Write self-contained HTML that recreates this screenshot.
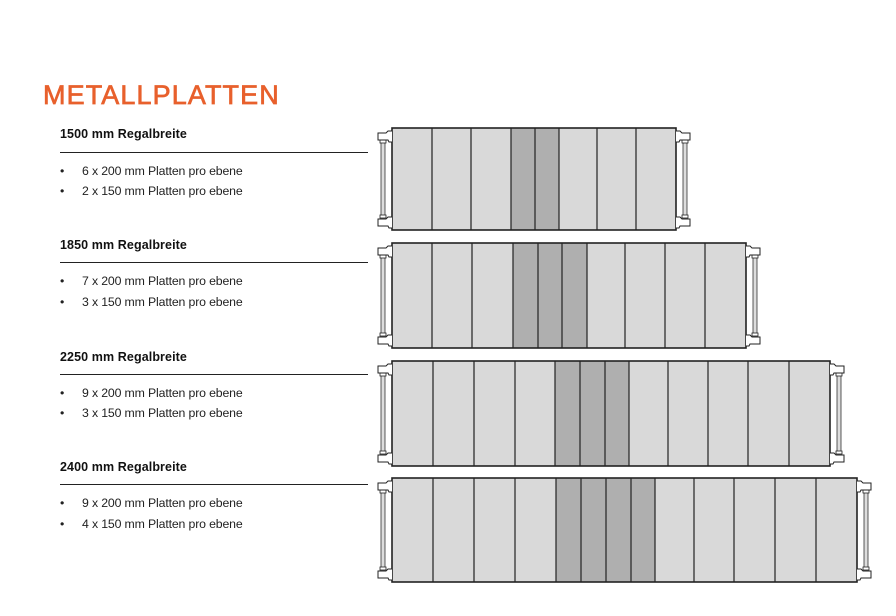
<!DOCTYPE html>
<html><head><meta charset="utf-8"><style>
body{margin:0;background:#fff;width:896px;height:616px;overflow:hidden;position:relative;font-family:"Liberation Sans",sans-serif}
.t{position:absolute;left:43px;top:80px;font-size:27px;color:#e8602c;letter-spacing:1.1px;-webkit-text-stroke:0.7px #e8602c}
.h{position:absolute;left:60px;font-size:12.5px;font-weight:bold;color:#111;letter-spacing:0.1px}
.l{position:absolute;left:60px;width:308px;border-top:1px solid #222}
.b{position:absolute;left:60px;font-size:12.3px;color:#222;letter-spacing:-0.15px}
.b span{position:absolute;left:22px;white-space:nowrap}
svg{position:absolute;left:0;top:0}
</style></head><body>
<div class="t">METALLPLATTEN</div>
<div class="h" style="top:127px">1500 mm Regalbreite</div><div class="l" style="top:152px"></div>
<div class="b" style="top:164px">•<span>6 x 200 mm Platten pro ebene</span></div>
<div class="b" style="top:184px">•<span>2 x 150 mm Platten pro ebene</span></div>
<div class="h" style="top:238px">1850 mm Regalbreite</div><div class="l" style="top:262px"></div>
<div class="b" style="top:274px">•<span>7 x 200 mm Platten pro ebene</span></div>
<div class="b" style="top:295px">•<span>3 x 150 mm Platten pro ebene</span></div>
<div class="h" style="top:350px">2250 mm Regalbreite</div><div class="l" style="top:374px"></div>
<div class="b" style="top:386px">•<span>9 x 200 mm Platten pro ebene</span></div>
<div class="b" style="top:406px">•<span>3 x 150 mm Platten pro ebene</span></div>
<div class="h" style="top:460px">2400 mm Regalbreite</div><div class="l" style="top:484px"></div>
<div class="b" style="top:496px">•<span>9 x 200 mm Platten pro ebene</span></div>
<div class="b" style="top:517px">•<span>4 x 150 mm Platten pro ebene</span></div>
<svg id="s" width="896" height="616"></svg>
<script>
var P=[[392,676,128,230,[432,471,511,535,559,597,636],511,559],
[392,746,243,348,[432,472,513,538,562,587,625,665,705],513,587],
[392,830,361,466,[433,474,515,555,580,605,629,668,708,748,789],555,629],
[392,857,478,582,[433,474,515,556,581,606,631,655,694,734,775,816],556,655]];
var s='';
function br(x,y1,y2,d){
 var a=x-d*14,px=x-d*9;
 var cap=function(y){return '<path d="M'+x+' '+y+' L'+(x-d*4)+' '+y+' L'+(x-d*6)+' '+(y+2)+' L'+a+' '+(y+2)+' L'+a+' '+(y+9)+' L'+(x-d*4)+' '+(y+9)+' L'+(x-d*3)+' '+(y+11)+' L'+x+' '+(y+11)+'" fill="#fff" stroke="#222" stroke-width="1"/>';};
 s+='<rect x="'+(px-2)+'" y="'+(y1+14)+'" width="4" height="'+(y2-y1-28)+'" fill="#ddd" stroke="#333" stroke-width="0.8"/>';
 s+='<rect x="'+(px-3)+'" y="'+(y1+12)+'" width="6" height="3" fill="#fff" stroke="#222" stroke-width="0.8"/>';
 s+='<rect x="'+(px-3)+'" y="'+(y2-15)+'" width="6" height="3" fill="#fff" stroke="#222" stroke-width="0.8"/>';
 s+=cap(y1+3);s+=cap(y2-13);
}
P.forEach(function(p){
 var x1=p[0],x2=p[1],y1=p[2],y2=p[3];
 s+='<rect x="'+x1+'" y="'+y1+'" width="'+(x2-x1)+'" height="'+(y2-y1)+'" fill="#d9d9d9"/>';
 s+='<rect x="'+p[5]+'" y="'+y1+'" width="'+(p[6]-p[5])+'" height="'+(y2-y1)+'" fill="#afafaf"/>';
 p[4].forEach(function(x){s+='<line x1="'+x+'" y1="'+y1+'" x2="'+x+'" y2="'+y2+'" stroke="#222" stroke-width="1.2"/>';});
 s+='<rect x="'+x1+'" y="'+y1+'" width="'+(x2-x1)+'" height="'+(y2-y1)+'" fill="none" stroke="#222" stroke-width="1.6"/>';
 br(x1,y1,y2,1);br(x2,y1,y2,-1);
});
document.getElementById('s').innerHTML=s;
</script>
</body></html>
